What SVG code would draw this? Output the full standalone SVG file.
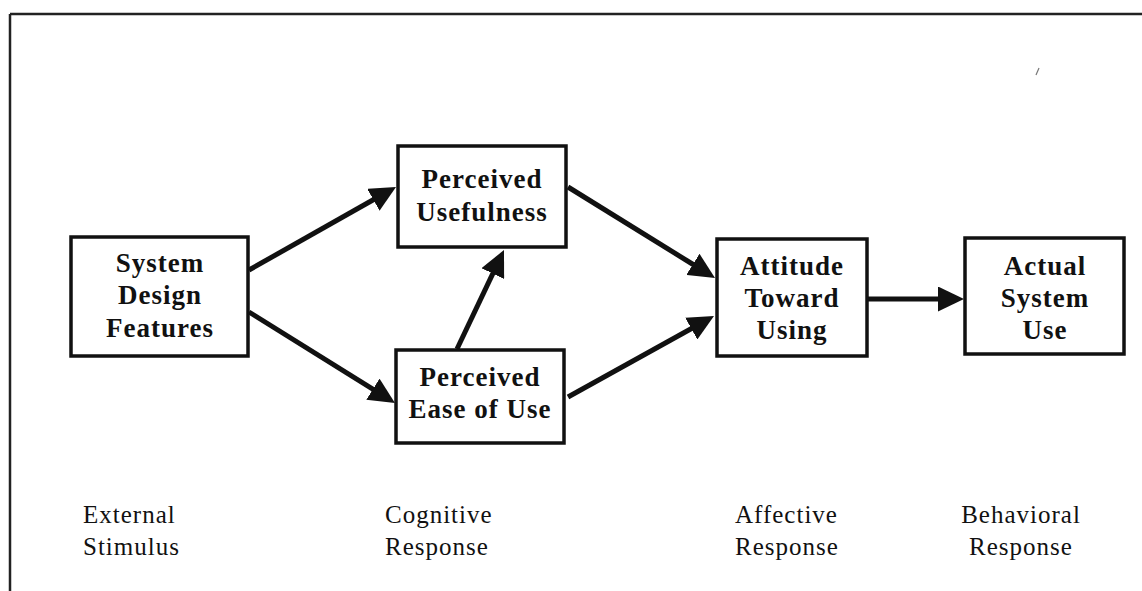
<svg xmlns="http://www.w3.org/2000/svg" width="1142" height="591" viewBox="0 0 1142 591">
<style>
.box{fill:#fff;stroke:#111;stroke-width:3.5}
.nt{font-family:"Liberation Serif",serif;font-weight:bold;font-size:27px;letter-spacing:1px;fill:#111;text-anchor:middle}
.lt{font-family:"Liberation Serif",serif;font-size:25px;letter-spacing:1px;fill:#111}
.cn{stroke:#111;stroke-width:5;fill:none;marker-end:url(#ah)}
</style>
<defs>
<marker id="ah" markerUnits="userSpaceOnUse" markerWidth="26" markerHeight="25" refX="6" refY="12.5" orient="auto">
<path d="M0,0 L26,12.5 L0,25 z" fill="#111"/>
</marker>
</defs>
<rect width="1142" height="591" fill="#fff"/>
<g id="frame" stroke="#222" stroke-width="2.5" fill="none">
<line x1="10" y1="14" x2="1142" y2="14"/>
<line x1="10" y1="14" x2="10" y2="591"/>
</g>
<line x1="1036" y1="75" x2="1039" y2="68" stroke="#777" stroke-width="1.2"/>
<g id="connectors">
<line class="cn" x1="249" y1="270" x2="378.6" y2="196.8"/>
<line class="cn" x1="249" y1="312" x2="378" y2="392.4"/>
<line class="cn" x1="457" y1="349" x2="495.4" y2="268.1"/>
<line class="cn" x1="568" y1="187" x2="698" y2="267.5"/>
<line class="cn" x1="568" y1="397" x2="696.5" y2="325.7"/>
<line class="cn" x1="868" y1="299" x2="944" y2="299"/>
</g>
<g id="sdf">
<rect class="box" x="71" y="237" width="177" height="119"/>
<text class="nt" x="160" y="272">System</text>
<text class="nt" x="160" y="304">Design</text>
<text class="nt" x="160" y="337">Features</text>
</g>
<g id="pu">
<rect class="box" x="398" y="146" width="168" height="101"/>
<text class="nt" x="482" y="188">Perceived</text>
<text class="nt" x="482" y="221">Usefulness</text>
</g>
<g id="peou">
<rect class="box" x="396" y="350" width="168" height="93"/>
<text class="nt" x="480" y="386">Perceived</text>
<text class="nt" x="480" y="418">Ease of Use</text>
</g>
<g id="atu">
<rect class="box" x="717" y="239" width="150" height="117"/>
<text class="nt" x="792" y="275">Attitude</text>
<text class="nt" x="792" y="307">Toward</text>
<text class="nt" x="792" y="339">Using</text>
</g>
<g id="asu">
<rect class="box" x="965" y="238" width="159" height="116"/>
<text class="nt" x="1045" y="275">Actual</text>
<text class="nt" x="1045" y="307">System</text>
<text class="nt" x="1045" y="339">Use</text>
</g>
<g id="labels">
<text class="lt" x="83" y="523">External</text>
<text class="lt" x="83" y="555">Stimulus</text>
<text class="lt" x="385" y="523">Cognitive</text>
<text class="lt" x="385" y="555">Response</text>
<text class="lt" x="735" y="523">Affective</text>
<text class="lt" x="735" y="555">Response</text>
<text class="lt" x="1021" y="523" text-anchor="middle">Behavioral</text>
<text class="lt" x="1021" y="555" text-anchor="middle">Response</text>
</g>
</svg>
